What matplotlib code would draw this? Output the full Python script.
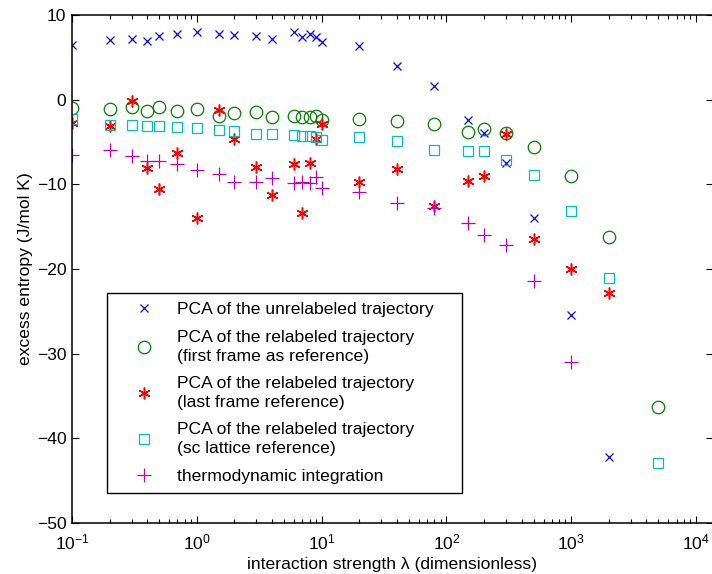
import matplotlib
matplotlib.use("Agg")
import matplotlib.pyplot as plt
from matplotlib.ticker import LogLocator, FixedLocator, NullFormatter

plt.rcParams['font.family'] = ['Liberation Sans', 'DejaVu Sans']
plt.rcParams['mathtext.fontset'] = 'custom'
plt.rcParams['mathtext.rm'] = 'Liberation Sans'
plt.rcParams['mathtext.it'] = 'Liberation Sans:italic'
plt.rcParams['mathtext.bf'] = 'Liberation Sans:bold'

# ---- data ----
lam_low = [0.1, 0.2, 0.3, 0.4, 0.5, 0.7, 1, 1.5, 2, 3, 4, 6, 7, 8, 9, 10]
lam_high = [20, 40, 80, 150, 200, 300, 500, 1000, 2000, 5000]

unrelabeled_x = lam_low + lam_high[:9]
unrelabeled_y = [6.4, 7.0, 7.2, 6.9, 7.5, 7.8, 8.0, 7.7, 7.6, 7.5, 7.2, 8.0, 7.4, 7.8, 7.4, 6.8,
                 6.3, 4.0, 1.6, -2.4, -3.9, -7.5, -14.0, -25.4, -42.2]

first_frame_x = lam_low + lam_high
first_frame_y = [-0.95, -1.1, -0.9, -1.35, -0.85, -1.3, -1.15, -1.9, -1.6, -1.5, -2.1, -1.95, -2.0, -2.0, -1.95, -2.35,
                 -2.25, -2.55, -2.9, -3.8, -3.45, -3.9, -5.6, -9.0, -16.2, -36.3]

last_frame_x = lam_low + lam_high[:9]
last_frame_y = [-2.8, -3.1, -0.1, -8.1, -10.6, -6.3, -14.0, -1.2, -4.7, -7.9, -11.3, -7.6, -13.4, -7.5, -4.7, -2.9,
                -9.7, -8.2, -12.6, -9.6, -9.0, -4.0, -16.5, -20.0, -22.8]

sc_lattice_x = lam_low + lam_high
sc_lattice_y = [-2.3, -3.0, -3.0, -3.1, -3.1, -3.2, -3.3, -3.6, -3.75, -4.0, -4.0, -4.15, -4.25, -4.3, -4.4, -4.8,
                -4.45, -4.9, -5.95, -6.05, -6.05, -7.1, -8.85, -13.2, -21.1, -42.9]

thermo_x = lam_low + lam_high[:8]
thermo_y = [-6.5, -6.0, -6.7, -7.3, -7.3, -7.6, -8.3, -8.8, -9.7, -9.7, -9.2, -9.9, -9.7, -9.9, -9.1, -10.4,
            -10.9, -12.2, -12.8, -14.6, -16.0, -17.2, -21.4, -31.0]

labels = ["PCA of the unrelabeled trajectory",
          "PCA of the relabeled trajectory\n(first frame as reference)",
          "PCA of the relabeled trajectory\n(last frame reference)",
          "PCA of the relabeled trajectory\n(sc lattice reference)",
          "thermodynamic integration"]

yticks = [10, 0, -10, -20, -30, -40, -50]

# ---- figure ----
FS = 12.6
W, H = 712, 574
fig = plt.figure(figsize=(W / 100, H / 100), dpi=100)
left, right, top, bottom = 72, 712.5, 15, 523
ax = fig.add_axes([left / W, (H - bottom) / H, (right - left) / W, (bottom - top) / H])

mew = 0.9
ax.plot(unrelabeled_x, unrelabeled_y, linestyle='none', marker='x', color=(0, 0, 1),
        markersize=6, markeredgewidth=mew, label=labels[0])
ax.plot(first_frame_x, first_frame_y, linestyle='none', marker='o', color=(0, 0.5, 0),
        markerfacecolor='none', markersize=9, markeredgewidth=mew, label=labels[1])
ax.plot(last_frame_x, last_frame_y, linestyle='none', marker=(6, 2, 0), color=(1, 0, 0),
        markersize=8.5, markeredgewidth=1.1, label=labels[2])
ax.plot(sc_lattice_x, sc_lattice_y, linestyle='none', marker='s', color=(0, 0.75, 0.75),
        markerfacecolor='none', markersize=7.5, markeredgewidth=mew, label=labels[3])
ax.plot(thermo_x, thermo_y, linestyle='none', marker='+', color=(0.75, 0, 0.75),
        markersize=9.5, markeredgewidth=mew, label=labels[4])

ax.set_xscale('log')
ax.set_xlim(0.1, 10 ** (-1 + (right - left) / 124.8))
ax.set_ylim(-50, 10)
ax.yaxis.set_major_locator(FixedLocator(yticks))
ax.xaxis.set_major_locator(LogLocator(base=10, numticks=20))
ax.xaxis.set_minor_locator(LogLocator(base=10, subs=range(2, 10), numticks=100))
ax.xaxis.set_minor_formatter(NullFormatter())

ax.tick_params(axis='both', which='both', direction='in', top=True, right=True,
               labelsize=FS, width=0.8, color='black')
ax.tick_params(axis='both', which='major', length=4.8)
ax.tick_params(axis='y', which='major', pad=4)
ax.tick_params(axis='x', which='major', pad=7)
ax.tick_params(axis='x', which='minor', length=2.6)
for s in ax.spines.values():
    s.set_linewidth(1.1)

ax.set_xlabel('interaction strength λ (dimensionless)', fontsize=FS, labelpad=3)
ax.set_ylabel('excess entropy (J/mol K)', fontsize=FS, labelpad=3)

aw = right - left
ah = bottom - top
x0 = (107 - left) / aw
y0 = (bottom - 493) / ah
bw = (462 - 107) / aw
bh = (493 - 293) / ah
leg = ax.legend(loc='lower left', bbox_to_anchor=(x0, y0, bw, bh), mode='expand',
                borderaxespad=0, fontsize=FS, frameon=True, fancybox=False, edgecolor='black',
                framealpha=1, handlelength=3.19, handletextpad=0.29, borderpad=0.52,
                labelspacing=0.72, numpoints=1)
for t in leg.get_texts():
    t.set_linespacing(1.3)
leg.get_frame().set_linewidth(1.0)

fig.savefig('out.png', dpi=100)
